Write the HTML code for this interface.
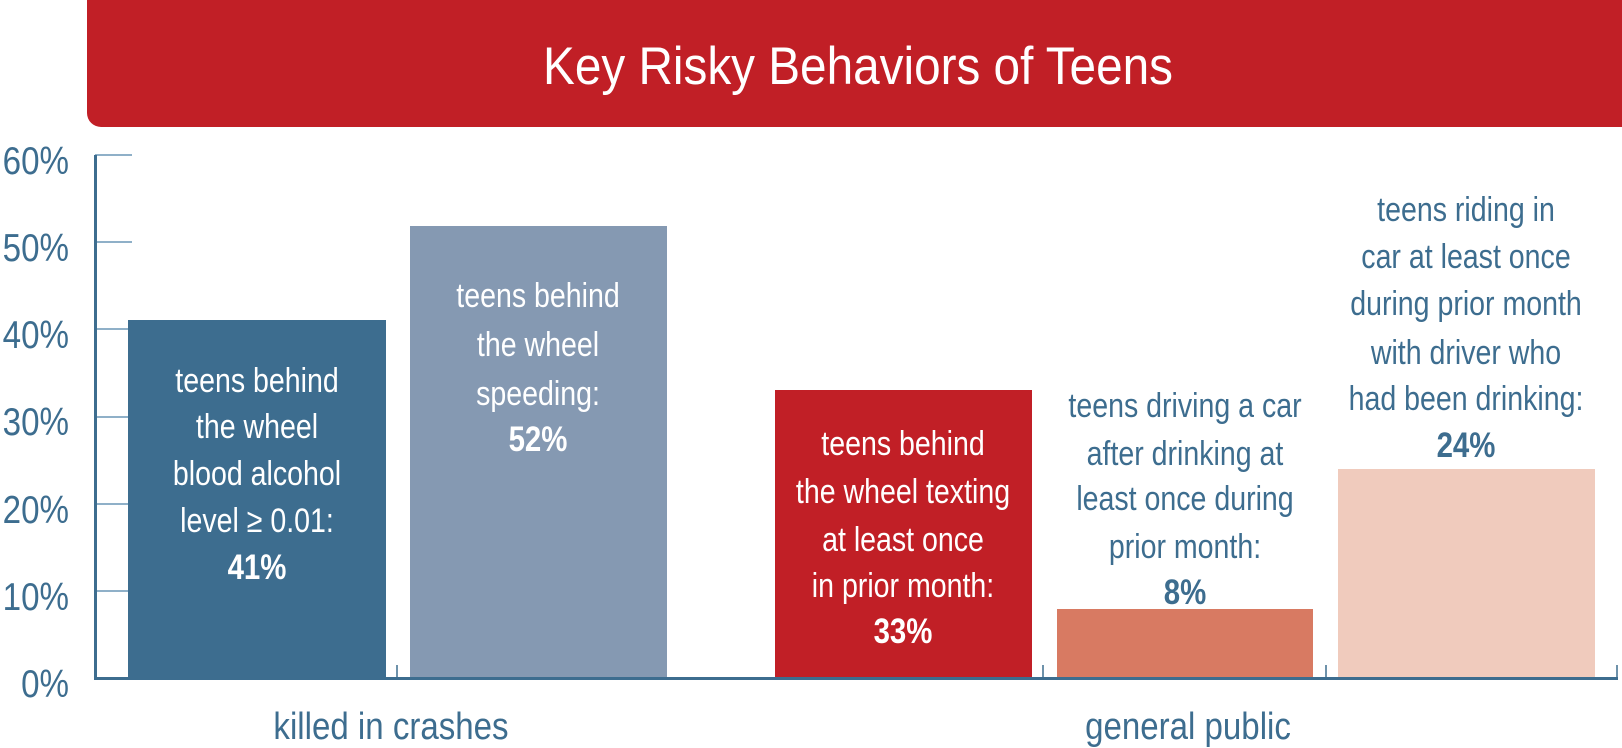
<!DOCTYPE html>
<html><head><meta charset="utf-8"><style>
html,body{margin:0;padding:0;background:#fff;}
svg{display:block;}
text{font-family:"Liberation Sans",sans-serif;}
</style></head><body>
<svg width="1622" height="748" viewBox="0 0 1622 748">
<rect x="87" y="-20" width="1560" height="147" rx="14" fill="#c11f26"/>
<g transform="translate(858 0) scale(0.9 1)"><text x="0" y="84" font-size="53" fill="#fff" text-anchor="middle">Key Risky Behaviors of Teens</text></g>
<g transform="translate(69 0) scale(0.85 1)" fill="#3d6d8f" font-size="39" text-anchor="end">
<text x="0" y="174">60%</text><text x="0" y="261">50%</text><text x="0" y="348">40%</text>
<text x="0" y="435">30%</text><text x="0" y="523">20%</text><text x="0" y="610">10%</text>
<text x="0" y="697">0%</text>
</g>
<g stroke="#8fb0c8" stroke-width="2">
<line x1="95" y1="155" x2="132" y2="155"/><line x1="95" y1="242" x2="132" y2="242"/>
<line x1="95" y1="329" x2="132" y2="329"/><line x1="95" y1="417" x2="132" y2="417"/>
<line x1="95" y1="504" x2="132" y2="504"/><line x1="95" y1="591" x2="132" y2="591"/>
</g>
<rect x="128" y="320" width="258" height="358" fill="#3d6d8f"/>
<rect x="410" y="226" width="257" height="452" fill="#8599b2"/>
<rect x="775" y="390" width="257" height="288" fill="#c11f26"/>
<rect x="1057" y="609" width="256" height="69" fill="#d87a62"/>
<rect x="1338" y="469" width="257" height="209" fill="#f0cbbd"/>
<rect x="94" y="155" width="3" height="525" fill="#3d6d8f"/>
<rect x="94" y="677" width="1524" height="3" fill="#3d6d8f"/>
<g stroke="#3d6d8f" stroke-width="1.5">
<line x1="397" y1="665" x2="397" y2="678"/><line x1="1043" y1="665" x2="1043" y2="678"/>
<line x1="1326" y1="665" x2="1326" y2="678"/><line x1="1617" y1="665" x2="1617" y2="678"/>
</g>
<g font-size="34" text-anchor="middle" fill="#fff">
<g transform="translate(257 0) scale(0.84 1)">
<text x="0" y="392">teens behind</text><text x="0" y="438">the wheel</text>
<text x="0" y="485">blood alcohol</text><text x="0" y="532">level ≥ 0.01:</text>
<text x="0" y="579" font-weight="bold" font-size="35">41%</text></g>
<g transform="translate(538 0) scale(0.84 1)">
<text x="0" y="307">teens behind</text><text x="0" y="356">the wheel</text>
<text x="0" y="405">speeding:</text>
<text x="0" y="451" font-weight="bold" font-size="35">52%</text></g>
<g transform="translate(903 0) scale(0.84 1)">
<text x="0" y="455">teens behind</text><text x="0" y="503">the wheel texting</text>
<text x="0" y="551">at least once</text><text x="0" y="597">in prior month:</text>
<text x="0" y="643" font-weight="bold" font-size="35">33%</text></g>
</g>
<g font-size="34" text-anchor="middle" fill="#3d6d8f">
<g transform="translate(1185 0) scale(0.84 1)">
<text x="0" y="417">teens driving a car</text><text x="0" y="465">after drinking at</text>
<text x="0" y="510">least once during</text><text x="0" y="558">prior month:</text>
<text x="0" y="604" font-weight="bold" font-size="35">8%</text></g>
<g transform="translate(1466 0) scale(0.84 1)">
<text x="0" y="221">teens riding in</text><text x="0" y="268">car at least once</text>
<text x="0" y="315">during prior month</text><text x="0" y="364">with driver who</text>
<text x="0" y="410">had been drinking:</text>
<text x="0" y="457" font-weight="bold" font-size="35">24%</text></g>
</g>
<g font-size="38" text-anchor="middle" fill="#3d6d8f">
<g transform="translate(391 0) scale(0.87 1)"><text x="0" y="739">killed in crashes</text></g>
<g transform="translate(1188 0) scale(0.87 1)"><text x="0" y="739">general public</text></g>
</g>
</svg>
</body></html>
